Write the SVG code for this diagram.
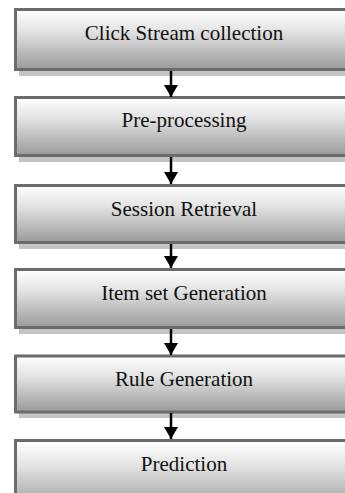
<svg xmlns="http://www.w3.org/2000/svg" width="345" height="493" viewBox="0 0 345 493">
<defs>
<linearGradient id="g" x1="0" y1="0" x2="0" y2="1">
<stop offset="0" stop-color="#ffffff"/>
<stop offset="0.35" stop-color="#e4e4e4"/>
<stop offset="1" stop-color="#9a9a9a"/>
</linearGradient>
<marker id="ah" markerWidth="12" markerHeight="14" refX="12" refY="7" orient="auto" markerUnits="userSpaceOnUse" viewBox="0 0 12 14">
<path d="M0,0 L12,7 L0,14 Z" fill="#000"/>
</marker>
</defs>
<style>
.box{fill:url(#g);stroke:#6b6b6b;stroke-width:3}
.sh{fill:#c4c4c4}
.t{font-family:'Liberation Serif','Times New Roman',serif;font-size:21px;fill:#111;text-anchor:middle}
.c{stroke:#000;stroke-width:2.5;fill:none}
</style>
<g id="n1"><rect class="sh" x="19" y="13" width="340" height="63"/><rect class="box" x="15.5" y="9.5" width="340" height="60"/><text class="t" x="184" y="40" font-family="Liberation Serif, serif">Click Stream collection</text></g>
<g id="n2"><rect class="sh" x="19" y="101" width="340" height="61"/><rect class="box" x="15.5" y="97.5" width="340" height="58"/><text class="t" x="184" y="127" font-family="Liberation Serif, serif">Pre-processing</text></g>
<g id="n3"><rect class="sh" x="19" y="189" width="340" height="60"/><rect class="box" x="15.5" y="185.5" width="340" height="57"/><text class="t" x="184" y="216" font-family="Liberation Serif, serif">Session Retrieval</text></g>
<g id="n4"><rect class="sh" x="19" y="273" width="340" height="61"/><rect class="box" x="15.5" y="269.5" width="340" height="58"/><text class="t" x="184" y="300" font-family="Liberation Serif, serif">Item set Generation</text></g>
<g id="n5"><rect class="sh" x="19" y="360" width="340" height="58"/><rect class="box" x="15.5" y="356" width="340" height="56"/><text class="t" x="184" y="386" font-family="Liberation Serif, serif">Rule Generation</text></g>
<g id="n6"><rect class="box" x="15.5" y="440.5" width="340" height="70"/><text class="t" x="184" y="471" font-family="Liberation Serif, serif">Prediction</text></g>
<g id="connectors">
<line class="c" x1="171" y1="71" x2="171" y2="97" marker-end="url(#ah)"/>
<line class="c" x1="171" y1="157" x2="171" y2="184" marker-end="url(#ah)"/>
<line class="c" x1="171" y1="244" x2="171" y2="268" marker-end="url(#ah)"/>
<line class="c" x1="171" y1="329" x2="171" y2="355" marker-end="url(#ah)"/>
<line class="c" x1="171" y1="413" x2="171" y2="439" marker-end="url(#ah)"/>
</g>
</svg>
